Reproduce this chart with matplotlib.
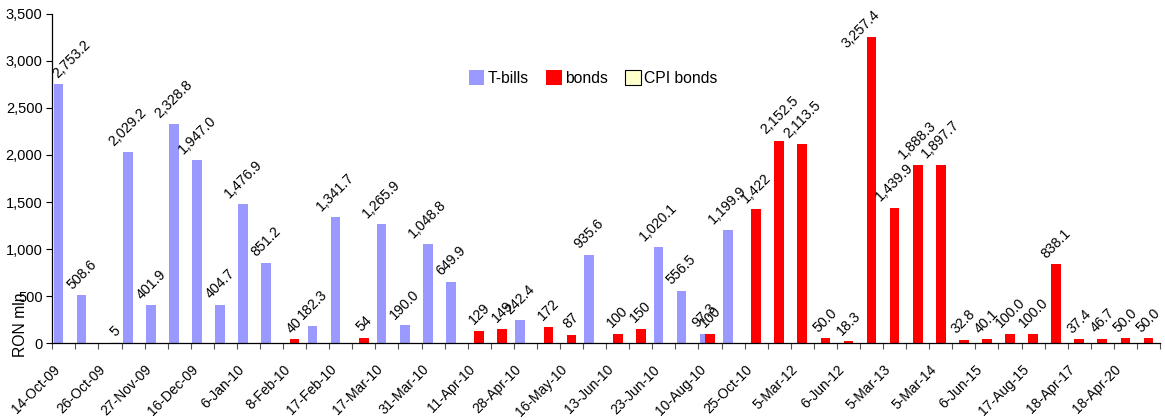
import matplotlib
matplotlib.use("Agg")
import matplotlib.pyplot as plt
import matplotlib.transforms as mtransforms
from matplotlib.ticker import FuncFormatter, MultipleLocator
import numpy as np

plt.rcParams['font.family'] = ['Liberation Sans', 'DejaVu Sans']

### 48 auction dates on the axis, only every second one gets a label
tick_labels = ["14-Oct-09", "26-Oct-09", "27-Nov-09", "16-Dec-09", "6-Jan-10",
               "8-Feb-10", "17-Feb-10", "17-Mar-10", "31-Mar-10", "11-Apr-10",
               "28-Apr-10", "16-May-10", "13-Jun-10", "23-Jun-10", "10-Aug-10",
               "25-Oct-10", "5-Mar-12", "6-Jun-12", "5-Mar-13", "5-Mar-14",
               "6-Jun-15", "17-Aug-15", "18-Apr-17", "18-Apr-20"]
n_cat = 48

### None -> nothing issued; int values are labelled without decimals
tbills = [2753.2, 508.6, None, 2029.2, 401.9, 2328.8, 1947.0, 404.7, 1476.9, 851.2,
          None, 182.3, 1341.7, None, 1265.9, 190.0, 1048.8, 649.9, None, None,
          242.4, None, None, 935.6, None, None, 1020.1, 556.5, 97.3, 1199.9,
          None, None, None, None, None, None, None, None, None, None,
          None, None, None, None, None, None, None, None]
bonds = [None, None, None, None, None, None, None, None, None, None,
         40, None, None, 54, None, None, None, None, 129, 149,
         None, 172, 87, None, 100, 150, None, None, 100, None,
         1422, 2152.5, 2113.5, 50.0, 18.3, 3257.4, 1439.9, 1888.3, 1897.7, 32.8,
         40.1, 100.0, 100.0, 838.1, 37.4, 46.7, 50.0, 50.0]
cpi_bonds = [None, None, 5, None, None, None, None, None, None, None,
             None, None, None, None, None, None, None, None, None, None,
             None, None, None, None, None, None, None, None, None, None,
             None, None, None, None, None, None, None, None, None, None,
             None, None, None, None, None, None, None, None]

series = [
    ("T-bills", tbills, "#9999FF", "none", -0.23),
    ("bonds", bonds, "#FF0000", "none", 0.0),
    ("CPI bonds", cpi_bonds, "#FFFFCC", "black", 0.22),
]
bar_w = 0.42

fig = plt.figure(figsize=(11.65, 4.2), dpi=100)
ax = fig.add_axes([0.0449, 0.1833, 0.9508, 0.7834])

labels = []
for name, vals, color, edge, off in series:
    idx = [i for i, v in enumerate(vals) if v is not None]
    hts = [vals[i] for i in idx]
    ax.bar(np.array(idx) + off, hts, width=bar_w, color=color,
           edgecolor=edge, linewidth=0.8 if edge != "none" else 0, label=name)
    for i, v in zip(idx, hts):
        txt = f"{v:,}" if isinstance(v, int) else f"{v:,.1f}"
        a = ax.annotate(txt, (i + off, v), xytext=(0, 2.5), textcoords="offset points",
                        rotation=45, ha="center", va="bottom", fontsize=10.2,
                        annotation_clip=False)
        labels.append(a)

ax.set_xlim(-0.5, n_cat - 0.5)
ax.set_ylim(0, 3500)
ax.yaxis.set_major_locator(MultipleLocator(500))
ax.yaxis.set_major_formatter(FuncFormatter(lambda v, _: f"{v:,.0f}"))
ax.tick_params(axis="y", labelsize=10.5, length=4, width=0.8, pad=3, direction="out")

### labels at every 2nd category centre, tick marks on the category borders
ax.set_xticks(np.arange(0, n_cat, 2))
ax.set_xticklabels(tick_labels, rotation=45, ha="right", va="top", fontsize=10)
ax.set_xticks(np.arange(n_cat + 1) - 0.5, minor=True)
ax.tick_params(axis="x", which="major", length=0, pad=14)
ax.tick_params(axis="x", which="minor", length=4, width=0.8, color="#555555")
shift = mtransforms.ScaledTranslation(-1.5 / 100, 0, fig.dpi_scale_trans)
for t in ax.get_xticklabels():
    t.set_transform(t.get_transform() + shift)

for s in ["top", "right"]:
    ax.spines[s].set_visible(False)
for s in ["left", "bottom"]:
    ax.spines[s].set_linewidth(0.9)

ax.set_ylabel("RON mln", fontsize=11.3)
ax.yaxis.set_label_coords(-0.022, 0.055)

ax.legend(loc="center", bbox_to_anchor=(0.488, 0.805), ncol=3, frameon=False,
          fontsize=11.3, handlelength=1.0, handleheight=1.1, handletextpad=0.2,
          columnspacing=1.1)

### keep data labels inside the picture, roughly like Excel does
fig.canvas.draw()
r = fig.canvas.get_renderer()
axbb = ax.get_window_extent(r)
fig_h = fig.bbox.height
for a in labels:
    bb = a.get_window_extent(r)
    dx, dy = 0.0, 0.0
    if bb.x0 < axbb.x0 - 2:
        dx = axbb.x0 - 2 - bb.x0
    if bb.y1 > fig_h - 8:
        dy = (fig_h - 8) - bb.y1
        dx = -bb.width / 4
    if dx or dy:
        ox, oy = a.xyann
        a.xyann = (ox + dx * 72 / 100, oy + dy * 72 / 100)

fig.savefig("out.png", dpi=100)
